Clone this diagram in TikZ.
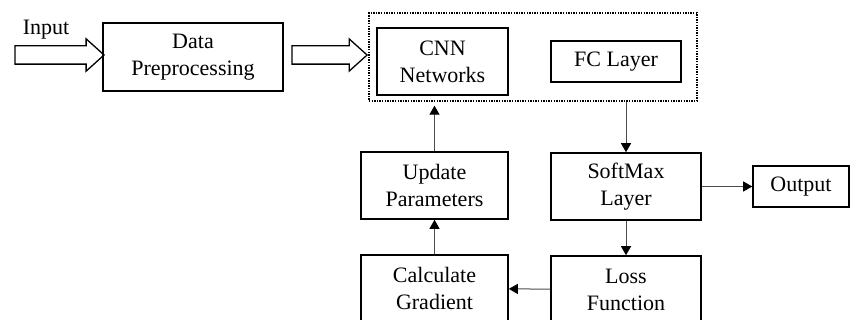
\documentclass[tikz,border=0pt]{standalone}
\usepackage{fontspec}
\setmainfont{Liberation Serif}
\usetikzlibrary{shapes.arrows,arrows.meta}
\begin{document}
\begin{tikzpicture}[
  x=1pt, y=-1pt,
  font=\fontsize{22}{27}\selectfont,
  proc/.style={rectangle, draw, line width=1.6pt, align=center, inner sep=0pt},
  group/.style={rectangle, draw, line width=1.4pt, dash pattern=on 1.4pt off 1.2pt, inner sep=0pt},
  hollow/.style={single arrow, draw, line width=1.3pt, inner xsep=0pt, inner ysep=8.5pt,
                 single arrow head extend=7pt, single arrow tip angle=84},
  flow/.style={-{Triangle[length=9pt,width=10pt,black]}, line width=1pt, black!70}
]
\useasboundingbox (0,0) rectangle (850,320);
\node[hollow, minimum height=89pt] (inarr) at (54.5,55) {};
\node (inp) at (46,30) {Input};
\node[proc, minimum width=180pt, minimum height=68pt] (prep) at (193,57) {Data\\Preprocessing};
\node[hollow, minimum height=75pt] (midarr) at (324.5,55) {};
\node[group, minimum width=328pt, minimum height=88pt] (grp) at (533,57) {};
\node[proc, minimum width=131pt, minimum height=67pt] (cnn) at (442.5,61.5) {CNN\\Networks};
\node[proc, minimum width=130pt, minimum height=41pt] (fc) at (616,61.5) {FC Layer};
\node[proc, minimum width=147pt, minimum height=67pt] (upd) at (434.5,185.5) {Update\\Parameters};
\node[proc, minimum width=150pt, minimum height=67pt] (soft) at (626,186.5) {SoftMax\\Layer};
\node[proc, minimum width=96pt, minimum height=41pt] (out) at (801,186.5) {Output};
\node[proc, minimum width=147pt, minimum height=67pt] (grad) at (434.5,288.5) {Calculate\\Gradient};
\node[proc, minimum width=150pt, minimum height=67pt] (loss) at (626,289.5) {Loss\\Function};
\draw[flow] (soft.north |- grp.south) -- (soft.north);
\draw[flow] (soft) -- (loss);
\draw[flow] (soft) -- (out);
\draw[flow] (loss) -- (grad);
\draw[flow] (grad) -- (upd);
\draw[flow, shorten >=4pt] (upd.north) -- (upd.north |- grp.south);
\end{tikzpicture}
\end{document}
